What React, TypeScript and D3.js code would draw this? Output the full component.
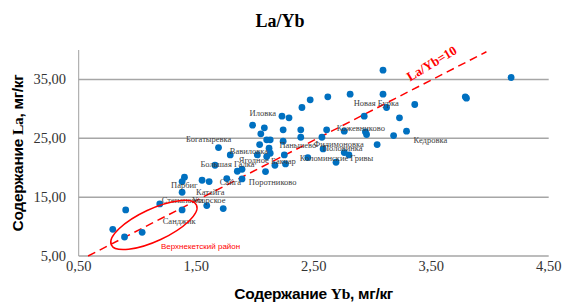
import React from 'react';
import * as d3 from 'd3';

const width = 563;
const height = 305;

// Yb / La content per sample (мг/кг)
const ybValues = [
  0.79, 0.9, 0.89, 1.04, 1.19, 1.38, 1.38, 1.38, 1.4, 1.55, 1.61, 1.59, 1.73, 1.66, 1.69, 1.79, 1.76,
  1.85, 1.89, 1.89, 1.98, 2.02, 2.04, 2.05, 2.08, 2.1, 2.13, 2.09, 2.1, 2.12, 2.13, 2.17, 2.23, 2.29,
  2.24, 2.24, 2.25, 2.26, 2.39, 2.39, 2.4, 2.47, 2.45, 2.57, 2.58, 2.61, 2.62, 2.69, 2.76, 2.76, 2.8,
  2.81, 2.93, 2.94, 2.95, 3.04, 3.09, 3.09, 3.12, 3.18, 3.23, 3.29, 3.36, 3.79, 3.8, 4.18,
];
const laValues = [
  9.54, 12.82, 8.23, 9.02, 13.84, 12.82, 15.83, 17.64, 18.38, 17.87, 17.64, 13.56, 13.05, 20.42, 23.42,
  22.18, 18.15, 19.4, 19.74, 18.1, 27.22, 22.18, 23.93, 25.75, 26.77, 24.73, 24.73, 19.34, 21.89, 23.31,
  22.46, 20.42, 28.75, 28.47, 26.43, 24.5, 22.18, 20.65, 26.43, 25.18, 30.23, 31.53, 21.72, 25.18, 23.2,
  26.43, 32.04, 20.93, 22.57, 26.2, 22.18, 32.49, 28.75, 26.09, 25.64, 23.93, 36.58, 32.49, 30.23, 25.46,
  28.47, 26.2, 30.74, 32.04, 31.81, 35.33,
];

// point labels (anchored in data units)
const labelNames = [
  'Иловка', 'Новая Бурка', 'Богатыревка', 'Кожевниково', 'Кедровка', 'Вавиловка', 'Паньшево',
  'Филимоновка', 'Половинка', 'Коломинские Гривы', 'Ягодное', 'Бакчар', 'Большая Галка',
  'Поротниково', 'Сайга', 'Парбиг', 'Катайга', 'Степановка', 'Уторское', 'Санджик',
];
const labelYb = [
  1.954, 2.84, 1.413, 2.697, 3.35, 1.786, 2.208, 2.498, 2.579, 2.382, 1.863, 2.137, 1.536, 1.948, 1.7,
  1.286, 1.499, 1.206, 1.462, 1.215,
];
const labelLa = [
  28.78, 30.51, 24.39, 26.26, 24.22, 22.26, 23.28, 23.54, 22.86, 21.16, 20.82, 20.65, 20.14, 17.07, 17.07,
  16.56, 15.37, 13.93, 13.93, 10.36,
];

// La/Yb = 10 reference line
const ratioYb = [0.58, 3.97];
const ratioLa = [5.0, 39.7];

const xTicks = [0.5, 1.5, 2.5, 3.5, 4.5];
const yTicks = [5, 15, 25, 35];

const fmt = (v: number) => d3.format('.2f')(v).replace('.', ',');

const App: React.FC = () => {
  const x = d3.scaleLinear().domain([0.5, 4.5]).range([78.7, 548.7]);
  const y = d3.scaleLinear().domain([5, 40]).range([256, 50]);
  const [x0, x1] = x.range();

  const ratioLine = d3
    .line<number>()
    .x((d) => x(d))
    .y((_, i) => y(ratioLa[i]))(ratioYb);

  const ellX = x(1.14);
  const ellY = y(10.27);

  return (
    <div style={{ position: 'fixed', left: 0, top: 0 }}>
      <svg width={width} height={height} style={{ display: 'block', background: '#fff' }}>
        <text
          x={280}
          y={27}
          textAnchor="middle"
          fontFamily="'Liberation Serif', serif"
          fontWeight="bold"
          fontSize={18}
          fill="#000"
        >
          La/Yb
        </text>

        {yTicks.slice(1).map((t) => (
          <line key={t} x1={x0} x2={x1} y1={y(t)} y2={y(t)} stroke="#a6a6a6" strokeWidth={1.5} />
        ))}
        <line x1={x0} x2={x0} y1={y(40)} y2={y(5)} stroke="#a0a0a0" strokeWidth={1} />
        <line x1={x0} x2={x1} y1={y(5)} y2={y(5)} stroke="#a6a6a6" strokeWidth={1.5} />

        {yTicks.map((t) => (
          <text
            key={t}
            x={66}
            y={y(t) + 5}
            textAnchor="end"
            fontFamily="'Liberation Serif', serif"
            fontSize={14.5}
            fill="#333"
          >
            {fmt(t)}
          </text>
        ))}
        {xTicks.map((t) => (
          <text
            key={t}
            x={x(t)}
            y={270.5}
            textAnchor="middle"
            fontFamily="'Liberation Serif', serif"
            fontSize={14.5}
            fill="#333"
          >
            {fmt(t)}
          </text>
        ))}

        <path d={ratioLine || ''} fill="none" stroke="#ff0000" strokeWidth={1.5} strokeDasharray="8,5" />

        {ybValues.map((v, i) => (
          <circle key={i} cx={x(v)} cy={y(laValues[i])} r={3.4} fill="#0070c0" />
        ))}

        {labelNames.map((name, i) => (
          <text
            key={name}
            x={x(labelYb[i])}
            y={y(labelLa[i])}
            fontFamily="'Liberation Serif', serif"
            fontSize={8.5}
            fill="#404040"
          >
            {name}
          </text>
        ))}

        <ellipse
          cx={ellX}
          cy={ellY}
          rx={47}
          ry={16}
          transform={`rotate(-25 ${ellX} ${ellY})`}
          fill="none"
          stroke="#ff0000"
          strokeWidth={1.5}
        />
        <text
          x={x(1.2)}
          y={y(6.19)}
          fontFamily="'Liberation Sans', Arial, sans-serif"
          fontSize={8}
          fill="#ff0000"
        >
          Верхнекетский район
        </text>

        <text
          transform="translate(431.7 63.3) rotate(-31)"
          textAnchor="middle"
          dominantBaseline="central"
          fontFamily="'Liberation Serif', serif"
          fontWeight="bold"
          fontSize={13}
          fill="#ff0000"
        >
          La/Yb=10
        </text>

        <text
          x={(x0 + x1) / 2}
          y={299}
          textAnchor="middle"
          fontFamily="'Liberation Sans', Arial, sans-serif"
          fontWeight="bold"
          fontSize={15.5}
          letterSpacing={-0.3}
          fill="#000"
        >
          Содержание <tspan fontFamily="'Liberation Serif', serif">Yb</tspan>, мг/кг
        </text>
        <text
          transform={`translate(23 ${(y(5) + y(40)) / 2}) rotate(-90)`}
          textAnchor="middle"
          fontFamily="'Liberation Sans', Arial, sans-serif"
          fontWeight="bold"
          fontSize={15.5}
          letterSpacing={-0.3}
          fill="#000"
        >
          Содержание <tspan fontFamily="'Liberation Serif', serif">La</tspan>, мг/кг
        </text>
      </svg>
    </div>
  );
};

export default App;
